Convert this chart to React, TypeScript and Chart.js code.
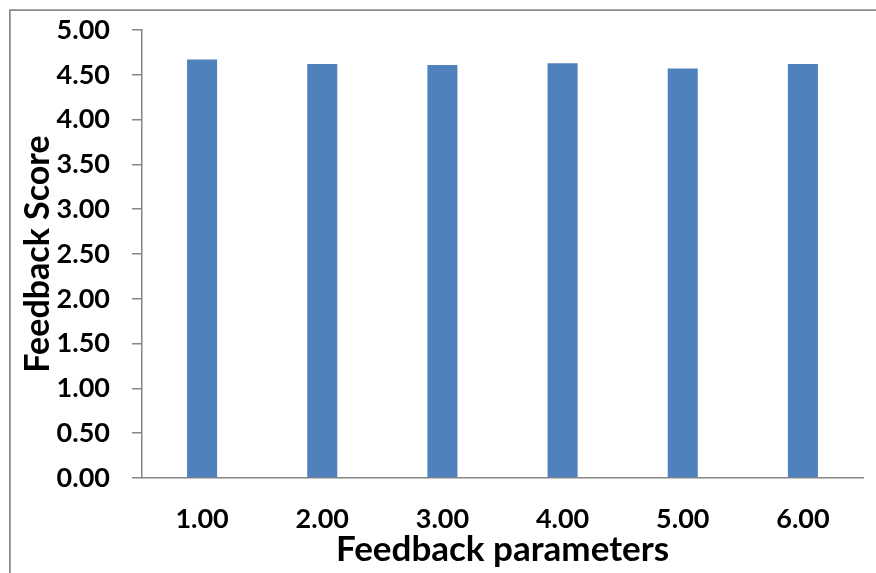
import React, { useEffect, useRef } from "react";
import { Chart, registerables } from "chart.js";

Chart.register(...registerables);

const categories: string[] = ["1.00", "2.00", "3.00", "4.00", "5.00", "6.00"];
const scores: number[] = [4.67, 4.62, 4.61, 4.63, 4.57, 4.62];
const yMin = 0;
const yMax = 5;
const yStep = 0.5;
const xTitle = "Feedback parameters";
const yTitle = "Feedback Score";

const FONT = "Lato, 'Open Sans', sans-serif";
const GRAY = "#868686";

const framePlugin = {
  id: "frame",
  beforeDraw(chart: any) {
    const ctx = chart.ctx as CanvasRenderingContext2D;
    ctx.save();
    ctx.fillStyle = "#ffffff";
    ctx.fillRect(0, 0, chart.width, chart.height);
    ctx.strokeStyle = "#8a8a8a";
    ctx.lineWidth = 1.75;
    ctx.beginPath();
    ctx.moveTo(9.9, chart.height);
    ctx.lineTo(9.9, 10);
    ctx.lineTo(chart.width, 10);
    ctx.stroke();
    ctx.restore();
  },
};

export default function App() {
  const ref = useRef<HTMLCanvasElement | null>(null);

  useEffect(() => {
    if (!ref.current) return;
    const chart = new Chart(ref.current, {
      type: "bar",
      data: {
        labels: categories,
        datasets: [
          {
            data: scores,
            backgroundColor: "#4F81BD",
            borderWidth: 0,
            barPercentage: 0.5,
            categoryPercentage: 0.5,
          },
        ],
      },
      options: {
        animation: false,
        responsive: false,
        devicePixelRatio: 1,
        layout: { padding: { top: 30, right: 13, bottom: 0, left: 0 } },
        plugins: {
          legend: { display: false },
          tooltip: { enabled: false },
        },
        scales: {
          x: {
            grid: { display: false, drawTicks: false },
            border: { display: true, color: GRAY, width: 1.5 },
            ticks: {
              color: "#000",
              font: { family: FONT, size: 27, weight: "bold" },
              padding: 25,
              maxRotation: 0,
              autoSkip: false,
            },
            title: {
              display: true,
              text: xTitle,
              color: "#000",
              font: { family: FONT, size: 35, weight: "bold" },
              padding: { top: 0, bottom: 2 },
            },
            afterFit(scale: any) {
              scale.height = 95;
              scale.paddingLeft = 0;
              scale.paddingRight = 0;
            },
          },
          y: {
            min: yMin,
            max: yMax,
            grid: {
              drawOnChartArea: false,
              drawTicks: true,
              tickLength: 10,
              color: GRAY,
              lineWidth: 1.5,
            },
            border: { display: true, color: GRAY, width: 1.5 },
            ticks: {
              stepSize: yStep,
              color: "#000",
              font: { family: FONT, size: 27, weight: "bold" },
              padding: 22,
              callback: (v: any) => Number(v).toFixed(2),
            },
            title: {
              display: true,
              text: yTitle,
              color: "#000",
              font: { family: FONT, size: 34, weight: "bold" },
              padding: { top: 18, bottom: 0 },
            },
            afterFit(scale: any) {
              scale.width = 142;
              scale.paddingTop = 0;
              scale.paddingBottom = 0;
            },
          },
        },
      },
      plugins: [framePlugin],
    });
    return () => chart.destroy();
  }, []);

  return (
    <div
      style={{
        position: "fixed",
        left: 0,
        top: 0,
        width: 876,
        height: 573,
        background: "#fff",
        overflow: "hidden",
      }}
    >
      <canvas ref={ref} width={876} height={573} style={{ width: 876, height: 573, display: "block" }} />
    </div>
  );
}
